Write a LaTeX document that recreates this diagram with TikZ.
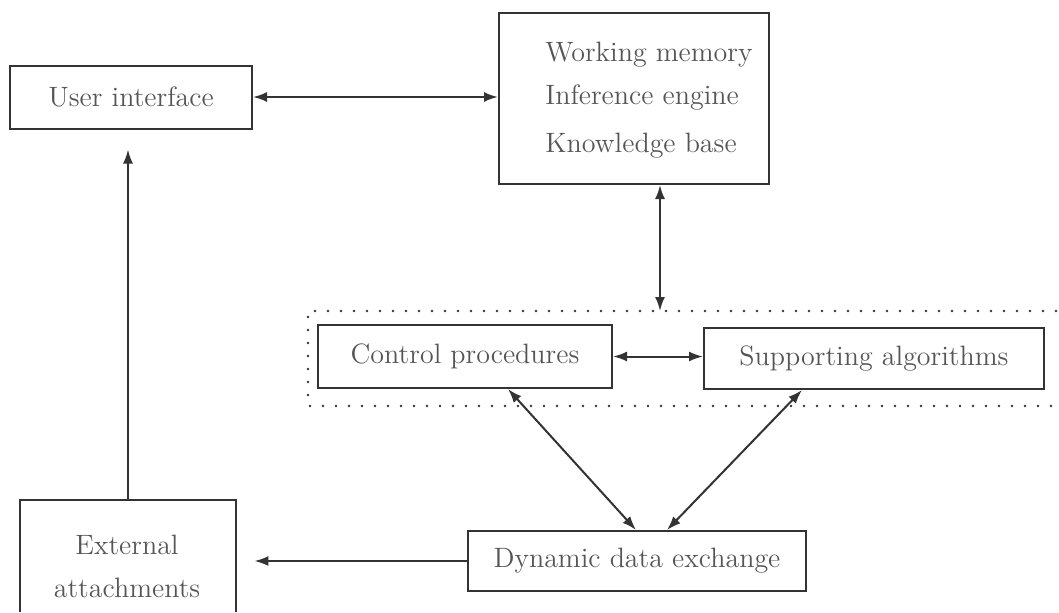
\documentclass[tikz,border=0pt]{standalone}
\usetikzlibrary{arrows.meta}
\definecolor{txt}{HTML}{555555}
\definecolor{ln}{HTML}{333333}
\begin{document}
\begin{tikzpicture}[x=0.5pt,y=-0.5pt,
  font=\fontsize{14}{16.5}\selectfont,
  box/.style={draw=ln,line width=1pt,text=txt,inner sep=0pt},
  lbl/.style={text=txt,inner sep=0pt},
  arr/.style={draw=ln,line width=1pt,-{Latex[length=7pt,width=5pt]}},
  dbl/.style={draw=ln,line width=1pt,{Latex[length=7pt,width=5pt]}-{Latex[length=7pt,width=5pt]}},
  dotline/.style={draw=ln,line width=1.3pt,line cap=round,dash pattern=on 0pt off 6.5pt}]
\useasboundingbox (0,0) rectangle (1059,612);
% nodes
\node[box,minimum width=121pt,minimum height=31.5pt] (ui) at (131,97) {User interface};
\node[box,minimum width=135pt,minimum height=85.5pt] (kb) at (634,98.5) {};
\node[lbl,anchor=west] (wm) at (545,55) {Working memory};
\node[lbl,anchor=west] (ie) at (545,98) {Inference engine};
\node[lbl,anchor=west] (kbt) at (545,146) {Knowledge base};
\node[box,minimum width=147pt,minimum height=31.5pt] (ctrl) at (465,356.5) {Control procedures};
\node[box,minimum width=170pt,minimum height=30.5pt] (sup) at (874,358.5) {Supporting algorithms};
\node[box,minimum width=169pt,minimum height=30pt] (dde) at (637,561) {Dynamic data exchange};
\node[inner sep=0pt,minimum width=108pt,minimum height=56pt] (ext) at (128,556) {};
\node[lbl] (ext1) at (127,545) {External};
\node[lbl] (ext2) at (127,588) {attachments};
\draw[ln,line width=1pt] (ext.south west) -- (ext.north west) -- (ext.north east) -- (ext.south east);
% dotted group
\coordinate (dtl) at (308,311);
\coordinate (dtr) at (1056,311);
\coordinate (dbl) at (308,406);
\coordinate (dbr) at (1056,406);
\draw[dotline] (dtr) -- (dtl) -- (dbl) -- (dbr);
% helper x positions
\coordinate (x660) at (660,0);
\coordinate (x508) at (508,0);
\coordinate (x636) at (636,0);
\coordinate (x802) at (802,0);
\coordinate (x667) at (667,0);
\coordinate (x128) at (128,0);
% connectors
\draw[dbl] (ui.east) -- (ui.east -| kb.west);
\draw[dbl] (kb.south -| x660) -- (dtl -| x660);
\draw[dbl] (ctrl.east) -- (ctrl.east -| sup.west);
\draw[dbl] (ctrl.south -| x508) -- (dde.north -| x636);
\draw[dbl] (sup.south -| x802) -- (dde.north -| x667);
\draw[arr,shorten >=9pt] (dde.west) -- (dde.west -| ext.east);
\draw[arr,shorten >=10pt] (ext.north -| x128) -- (ui.south -| x128);
\end{tikzpicture}
\end{document}
